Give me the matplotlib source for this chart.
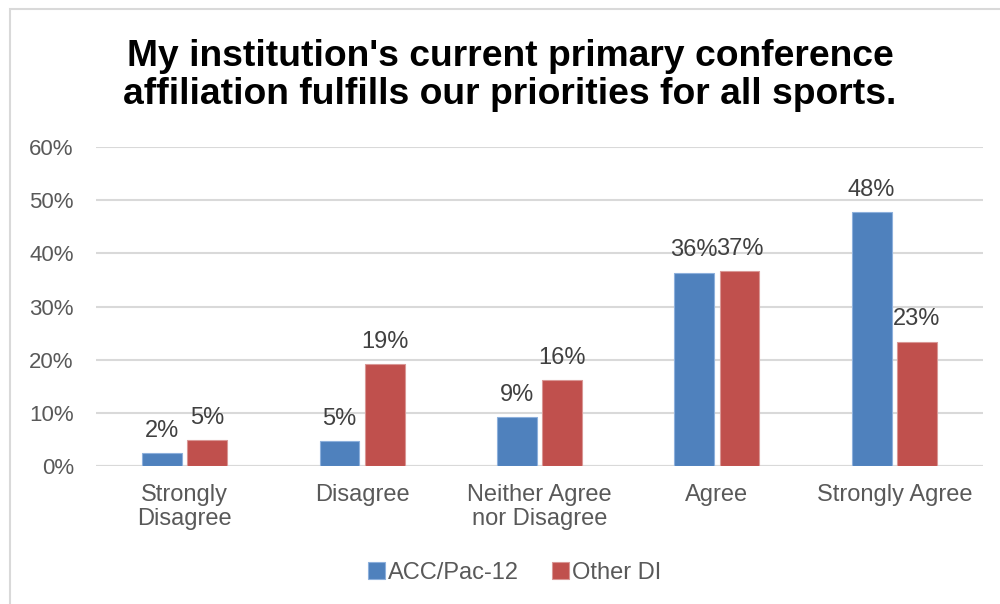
import numpy as np
import matplotlib.pyplot as plt
from matplotlib.patches import Rectangle

plt.rcParams['font.family'] = ['Liberation Sans', 'DejaVu Sans']

categories = ['Strongly\nDisagree', 'Disagree', 'Neither Agree\nnor Disagree', 'Agree', 'Strongly Agree']
acc_pac12 = [2.4, 4.7, 9.2, 36.4, 47.7]
other_di = [4.9, 19.2, 16.2, 36.6, 23.4]
series_names = ['ACC/Pac-12', 'Other DI']
yticks = [0, 10, 20, 30, 40, 50, 60]

blue = '#4F81BD'
red = '#C0504D'
grid = '#D9D9D9'
text_gray = '#595959'
label_gray = '#404040'

fig = plt.figure(figsize=(10, 6.04), dpi=100)

# chart frame (runs past the right and bottom edges)
fig.patches.append(Rectangle((0.010, -0.05), 1.05, 0.035 + 1.0, transform=fig.transFigure,
                             fill=False, edgecolor=grid, linewidth=1.5))

ax = fig.add_axes([0.096, 0.2285, 0.887, 0.528])

x = np.arange(len(categories))
w = 0.225
gap = 0.03
b1 = ax.bar(x - w / 2 - gap / 2, acc_pac12, w, color=blue, edgecolor='#8DB0DC', linewidth=0.8,
            label=series_names[0], zorder=3)
b2 = ax.bar(x + w / 2 + gap / 2, other_di, w, color=red, edgecolor='#D99795', linewidth=0.8,
            label=series_names[1], zorder=3)

for bars, vals in ((b1, acc_pac12), (b2, other_di)):
    for bar, v in zip(bars, vals):
        ax.annotate(f'{round(v)}%', (bar.get_x() + bar.get_width() / 2, v),
                    xytext=(0, 8), textcoords='offset points',
                    ha='center', va='bottom', fontsize=17, color=label_gray)

ax.set_xlim(-0.5, len(categories) - 0.5)
ax.set_ylim(0, 60)
ax.set_yticks(yticks)
ax.set_yticklabels([f'{t}%' for t in yticks])
ax.set_xticks(x)
ax.set_xticklabels(categories, linespacing=1.1)
ax.tick_params(axis='both', length=0, labelcolor=text_gray)
ax.tick_params(axis='y', pad=16, labelsize=16)
ax.tick_params(axis='x', pad=13, labelsize=17)
ax.yaxis.grid(True, color=grid, linewidth=1.5, zorder=0)
for s in ax.spines.values():
    s.set_visible(False)
ax.axhline(0, color=grid, linewidth=1.5, zorder=2)

fig.text(0.51, 0.875, "My institution's current primary conference\naffiliation fulfills our priorities for all sports.",
         ha='center', va='center', fontsize=26.8, fontweight='bold', color='black', linespacing=1.08)

fig.legend(loc='center', bbox_to_anchor=(0.515, 0.052), ncol=2, frameon=False, fontsize=17,
           handlelength=0.7, handleheight=0.7, handletextpad=0.15, columnspacing=1.4,
           labelcolor=text_gray)

fig.savefig('out.png', dpi=100)
